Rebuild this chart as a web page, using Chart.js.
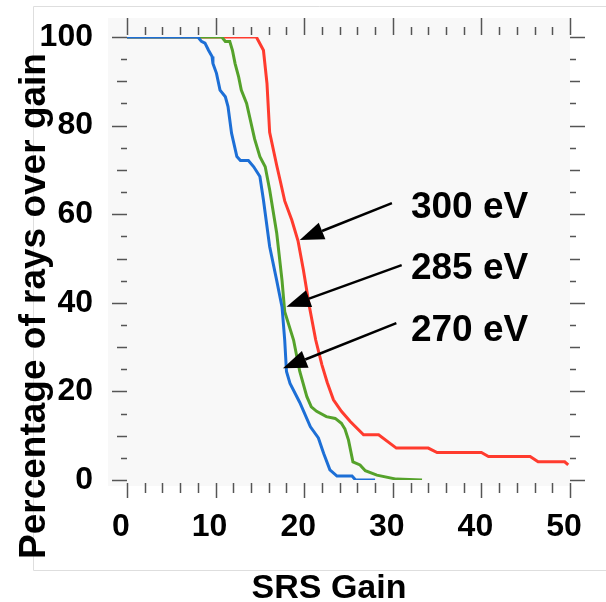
<!DOCTYPE html>
<html><head><meta charset="utf-8">
<script src="https://cdn.jsdelivr.net/npm/chart.js@4.4.0/dist/chart.umd.min.js"></script>
<style>html,body{margin:0;padding:0;background:#fff;}canvas{display:block;}</style>
</head><body>
<canvas id="c" width="606" height="602"></canvas>
<script>
// ---- data ----
const seriesNames = ['270 eV', '285 eV', '300 eV'];

const gain270 = [0, 8.0, 8.4, 8.8, 9.2, 9.6, 9.7, 10.1, 10.5, 11.1, 11.4, 11.8, 12.4, 12.8, 13.7, 14.3, 15.0, 15.4, 15.6, 16.1, 16.9, 17.5, 17.8, 18.0, 18.4, 19.5, 20.7, 21.6, 22.2, 22.9, 23.7, 25.4, 25.8, 28.0];
const pct270  = [100, 100, 99, 98.6, 97, 95.6, 94, 91.8, 88, 86.5, 84.3, 78.3, 73, 72.1, 72.1, 70.7, 68.5, 63.2, 60.2, 52.7, 45, 39, 31.6, 24.5, 21.8, 17.5, 12, 9.5, 6, 2.3, 0.9, 0.9, 0, 0];

const gain285 = [0, 10.7, 11.1, 11.6, 11.9, 12.2, 12.6, 12.9, 13.5, 14.4, 15.0, 15.6, 16.1, 16.9, 17.5, 17.8, 18.8, 19.5, 20.3, 20.8, 21.4, 22.5, 23.5, 24.2, 24.6, 25.0, 25.5, 26.3, 26.9, 28.2, 30.4, 33.3];
const pct285  = [100, 100, 99, 99, 97, 94, 91, 88, 85, 77, 73, 70.7, 65.5, 55.7, 45, 38, 31.6, 24.5, 18.8, 16.5, 15.5, 14.3, 13.9, 12.8, 11.5, 9, 4.1, 3.4, 2.1, 1.1, 0.2, 0];

const gain300 = [0, 14.6, 15.4, 15.8, 16.1, 16.9, 17.3, 17.8, 18.6, 19.3, 19.9, 20.6, 21.3, 22.0, 22.6, 23.3, 24.2, 25.2, 26.7, 28.4, 30.4, 34.0, 35.0, 40.0, 40.8, 45.5, 46.4, 49.4, 49.8];
const pct300  = [100, 100, 97, 89.5, 78.5, 71, 67.5, 63, 58.7, 54, 47.5, 39, 31.6, 26, 22, 18.1, 15.5, 13.2, 10.2, 10.2, 7.2, 7.2, 6.2, 6.2, 5.3, 5.3, 4.1, 4.1, 3.4];

const xTitle = 'SRS Gain';
const yTitle = 'Percentage of rays over gain';

// annotation arrows (data coordinates: label anchor, arrow tail, arrow tip)
const annLabel = ['300 eV', '285 eV', '270 eV'];
const annTailX = [29.9, 31.0, 30.4];
const annTailY = [62.5, 48.5, 35.4];
const annTipX  = [19.5, 18.0, 17.6];
const annTipY  = [54.2, 39.1, 25.2];
const annTextX = [32.05, 32.05, 32.05];
const annTextY = [59.2, 45.4, 31.4];

const FONT = "'Liberation Sans', Arial, Helvetica, sans-serif";

function pts(xs, ys) { return xs.map((x, i) => ({x: x, y: ys[i]})); }

const decor = {
  id: 'decor',
  beforeDraw(chart) {
    const {ctx, chartArea: a} = chart;
    ctx.save();
    ctx.strokeStyle = '#dedede'; ctx.lineWidth = 1;
    ctx.beginPath();
    ctx.moveTo(chart.width, 6.5); ctx.lineTo(33.5, 6.5); ctx.lineTo(33.5, 570.5); ctx.lineTo(chart.width, 570.5);
    ctx.stroke();
    ctx.fillStyle = '#f8f8f8';
    ctx.fillRect(a.left - 19, a.top - 19, a.right - a.left + 19, a.bottom - a.top + 25);
    ctx.restore();
  },
  beforeDatasetsDraw(chart) {
    const {ctx, chartArea: a, scales: {x, y}} = chart;
    ctx.save();
    ctx.strokeStyle = '#555'; ctx.lineWidth = 1.5;
    const line = (x1, y1, x2, y2) => { ctx.beginPath(); ctx.moveTo(x1, y1); ctx.lineTo(x2, y2); ctx.stroke(); };
    for (let v = 0; v <= 50; v += 2) {
      const px = Math.round(x.getPixelForValue(v)) + 0.5;
      const major = v % 10 === 0;
      line(px, a.bottom + 3, px, a.bottom + (major ? 18 : 13));
      line(px, major ? a.top - 19 : a.top - 10, px, a.top - 2);
    }
    for (let v = 0; v <= 100; v += 5) {
      const py = Math.round(y.getPixelForValue(v)) + 0.5;
      const len = v % 20 === 0 ? 15 : (v % 10 === 0 ? 10 : 6);
      line(a.left - len, py, a.left, py);
      line(a.right, py, a.right + len, py);
    }
    ctx.restore();
  },
  afterDatasetsDraw(chart) {
    const {ctx, chartArea: a, scales: {x, y}} = chart;
    ctx.save();
    // arrows
    ctx.strokeStyle = '#000'; ctx.fillStyle = '#000'; ctx.lineWidth = 2.5;
    for (let i = 0; i < annLabel.length; i++) {
      const x0 = x.getPixelForValue(annTailX[i]), y0 = y.getPixelForValue(annTailY[i]);
      const x1 = x.getPixelForValue(annTipX[i]), y1 = y.getPixelForValue(annTipY[i]);
      const ang = Math.atan2(y1 - y0, x1 - x0);
      const hl = 24, hw = 9;
      const bx = x1 - hl * Math.cos(ang), by = y1 - hl * Math.sin(ang);
      ctx.beginPath(); ctx.moveTo(x0, y0); ctx.lineTo(bx, by); ctx.stroke();
      ctx.beginPath();
      ctx.moveTo(x1, y1);
      ctx.lineTo(bx + hw * Math.sin(ang), by - hw * Math.cos(ang));
      ctx.lineTo(bx - hw * Math.sin(ang), by + hw * Math.cos(ang));
      ctx.closePath(); ctx.fill();
      ctx.font = 'bold 37px ' + FONT;
      ctx.textAlign = 'left'; ctx.textBaseline = 'alphabetic';
      ctx.fillText(annLabel[i], x.getPixelForValue(annTextX[i]), y.getPixelForValue(annTextY[i]));
    }
    // axis titles
    ctx.fillStyle = '#000';
    ctx.font = 'bold 34px ' + FONT;
    ctx.textAlign = 'center'; ctx.textBaseline = 'alphabetic';
    ctx.fillText(xTitle, 329, 598);
    ctx.translate(45, 306);
    ctx.rotate(-Math.PI / 2);
    ctx.font = 'bold 37px ' + FONT;
    ctx.fillText(yTitle, 0, 0);
    ctx.restore();
  }
};

new Chart(document.getElementById('c'), {
  type: 'line',
  data: {
    datasets: [
      {label: seriesNames[0], data: pts(gain270, pct270), borderColor: '#1d6fd6', borderWidth: 3},
      {label: seriesNames[1], data: pts(gain285, pct285), borderColor: '#55a22b', borderWidth: 3},
      {label: seriesNames[2], data: pts(gain300, pct300), borderColor: '#ff3b2e', borderWidth: 3}
    ]
  },
  options: {
    responsive: false,
    animation: false,
    devicePixelRatio: 1,
    layout: {padding: {left: 0, right: 36, top: 37, bottom: 0}},
    elements: {point: {radius: 0}, line: {tension: 0, fill: false}},
    plugins: {legend: {display: false}, tooltip: {enabled: false}},
    scales: {
      x: {
        type: 'linear', min: 0, max: 50,
        grid: {display: false, drawTicks: false}, border: {display: false},
        ticks: {stepSize: 10, color: '#000', font: {family: FONT, size: 32, weight: 'bold'}, padding: 28, labelOffset: -6, maxRotation: 0, autoSkip: false},
        afterFit(s) { s.height = 122; s.paddingLeft = 0; s.paddingRight = 0; }
      },
      y: {
        type: 'linear', min: 0, max: 100,
        grid: {display: false, drawTicks: false}, border: {display: false},
        ticks: {stepSize: 20, color: '#000', font: {family: FONT, size: 32, weight: 'bold'}, padding: 34},
        afterFit(s) { s.width = 127; s.paddingTop = 0; s.paddingBottom = 0; }
      }
    }
  },
  plugins: [decor]
});
</script>
</body></html>
